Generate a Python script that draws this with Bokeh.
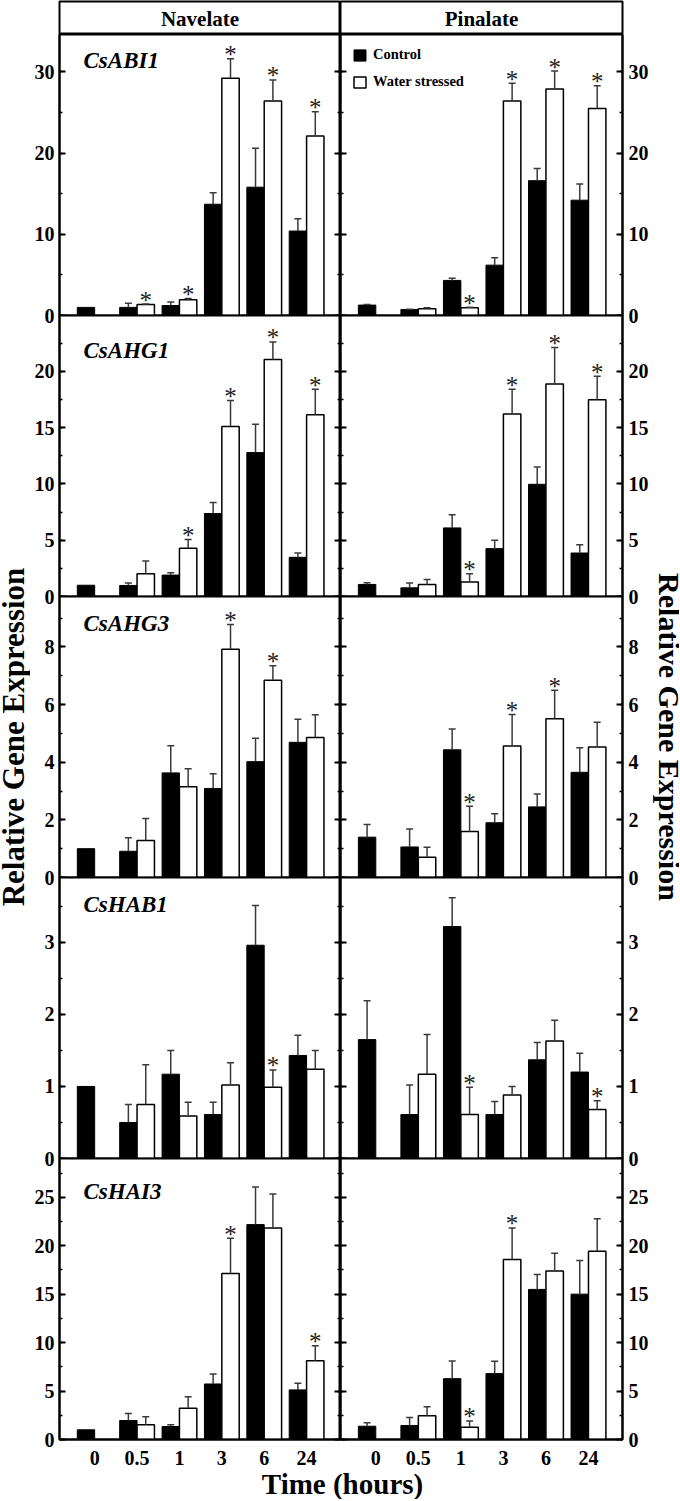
import numpy as np
from bokeh.plotting import figure
from bokeh.models import (ColumnDataSource, Range1d, LinearAxis, SingleIntervalTicker,
                          FixedTicker, Whisker, TeeHead, Legend, LegendItem)
from bokeh.layouts import row, column
from bokeh.core.properties import value
from bokeh.embed import file_html
from bokeh.resources import INLINE

# ---------------- data ----------------
times = ["0", "0.5", "1", "3", "6", "24"]
cultivars = ["Navelate", "Pinalate"]
genes = ["CsABI1", "CsAHG1", "CsAHG3", "CsHAB1", "CsHAI3"]
series_names = ["Control", "Water stressed"]

y_max = [34.6, 24.95, 9.75, 3.9, 29.0]
y_step = [10, 5, 2, 1, 5]

# Navelate
nav_ABI1_ctrl = [1.0, 1.0, 1.23, 13.7, 15.8, 10.4]
nav_ABI1_ctrl_se = [0.0, 0.5, 0.42, 1.4, 4.8, 1.5]
nav_ABI1_ws = [None, 1.36, 1.93, 29.2, 26.4, 22.1]
nav_ABI1_ws_se = [None, 0.05, 0.15, 2.4, 2.6, 3.0]
nav_ABI1_sig = [0, 1, 1, 1, 1, 1]

nav_AHG1_ctrl = [1.0, 0.98, 1.9, 7.37, 12.78, 3.48]
nav_AHG1_ctrl_se = [0.0, 0.21, 0.2, 0.98, 2.52, 0.38]
nav_AHG1_ws = [None, 2.02, 4.28, 15.1, 21.04, 16.14]
nav_AHG1_ws_se = [None, 1.13, 0.77, 2.3, 1.56, 2.26]
nav_AHG1_sig = [0, 0, 1, 1, 1, 1]

nav_AHG3_ctrl = [1.0, 0.91, 3.63, 3.09, 4.02, 4.69]
nav_AHG3_ctrl_se = [0.0, 0.47, 0.94, 0.51, 0.81, 0.8]
nav_AHG3_ws = [None, 1.28, 3.15, 7.92, 6.84, 4.86]
nav_AHG3_ws_se = [None, 0.77, 0.62, 0.86, 0.51, 0.79]
nav_AHG3_sig = [0, 0, 0, 1, 1, 0]

nav_HAB1_ctrl = [1.0, 0.5, 1.17, 0.61, 2.96, 1.43]
nav_HAB1_ctrl_se = [0.0, 0.25, 0.33, 0.17, 0.55, 0.28]
nav_HAB1_ws = [None, 0.75, 0.59, 1.02, 0.99, 1.24]
nav_HAB1_ws_se = [None, 0.55, 0.19, 0.31, 0.24, 0.26]
nav_HAB1_sig = [0, 0, 0, 0, 1, 0]

nav_HAI3_ctrl = [1.0, 1.96, 1.34, 5.73, 22.18, 5.12]
nav_HAI3_ctrl_se = [0.0, 0.72, 0.17, 1.04, 3.88, 0.68]
nav_HAI3_ws = [None, 1.51, 3.23, 17.14, 21.84, 8.14]
nav_HAI3_ws_se = [None, 0.83, 1.17, 3.64, 3.5, 1.54]
nav_HAI3_sig = [0, 0, 0, 1, 0, 1]

# Pinalate
pin_ABI1_ctrl = [1.28, 0.74, 4.32, 6.2, 16.6, 14.2]
pin_ABI1_ctrl_se = [0.08, 0.04, 0.28, 0.9, 1.5, 2.0]
pin_ABI1_ws = [None, 0.82, 0.95, 26.4, 27.9, 25.5]
pin_ABI1_ws_se = [None, 0.13, 0.08, 2.2, 2.2, 2.8]
pin_ABI1_sig = [0, 0, 1, 1, 1, 1]

pin_AHG1_ctrl = [1.07, 0.77, 6.09, 4.25, 9.96, 3.86]
pin_AHG1_ctrl_se = [0.15, 0.42, 1.16, 0.74, 1.54, 0.74]
pin_AHG1_ws = [None, 1.07, 1.28, 16.2, 18.87, 17.47]
pin_AHG1_ws_se = [None, 0.45, 0.74, 2.2, 3.23, 2.08]
pin_AHG1_sig = [0, 0, 1, 1, 1, 1]

pin_AHG3_ctrl = [1.4, 1.06, 4.43, 1.9, 2.45, 3.65]
pin_AHG3_ctrl_se = [0.44, 0.62, 0.72, 0.31, 0.45, 0.85]
pin_AHG3_ws = [None, 0.7, 1.6, 4.56, 5.51, 4.53]
pin_AHG3_ws_se = [None, 0.35, 0.87, 1.1, 0.99, 0.86]
pin_AHG3_sig = [0, 0, 1, 1, 1, 0]

pin_HAB1_ctrl = [1.65, 0.61, 3.22, 0.61, 1.37, 1.2]
pin_HAB1_ctrl_se = [0.54, 0.41, 0.4, 0.18, 0.24, 0.26]
pin_HAB1_ws = [None, 1.17, 0.61, 0.88, 1.63, 0.68]
pin_HAB1_ws_se = [None, 0.55, 0.38, 0.12, 0.29, 0.12]
pin_HAB1_sig = [0, 0, 1, 0, 0, 1]

pin_HAI3_ctrl = [1.37, 1.44, 6.28, 6.8, 15.49, 15.0]
pin_HAI3_ctrl_se = [0.35, 0.83, 1.82, 1.27, 1.54, 3.48]
pin_HAI3_ws = [None, 2.44, 1.27, 18.58, 17.38, 19.44]
pin_HAI3_ws_se = [None, 0.93, 0.65, 3.26, 1.85, 3.33]
pin_HAI3_sig = [0, 0, 1, 1, 0, 0]

DATA = {
    ("Navelate", "CsABI1"): (nav_ABI1_ctrl, nav_ABI1_ctrl_se, nav_ABI1_ws, nav_ABI1_ws_se, nav_ABI1_sig),
    ("Navelate", "CsAHG1"): (nav_AHG1_ctrl, nav_AHG1_ctrl_se, nav_AHG1_ws, nav_AHG1_ws_se, nav_AHG1_sig),
    ("Navelate", "CsAHG3"): (nav_AHG3_ctrl, nav_AHG3_ctrl_se, nav_AHG3_ws, nav_AHG3_ws_se, nav_AHG3_sig),
    ("Navelate", "CsHAB1"): (nav_HAB1_ctrl, nav_HAB1_ctrl_se, nav_HAB1_ws, nav_HAB1_ws_se, nav_HAB1_sig),
    ("Navelate", "CsHAI3"): (nav_HAI3_ctrl, nav_HAI3_ctrl_se, nav_HAI3_ws, nav_HAI3_ws_se, nav_HAI3_sig),
    ("Pinalate", "CsABI1"): (pin_ABI1_ctrl, pin_ABI1_ctrl_se, pin_ABI1_ws, pin_ABI1_ws_se, pin_ABI1_sig),
    ("Pinalate", "CsAHG1"): (pin_AHG1_ctrl, pin_AHG1_ctrl_se, pin_AHG1_ws, pin_AHG1_ws_se, pin_AHG1_sig),
    ("Pinalate", "CsAHG3"): (pin_AHG3_ctrl, pin_AHG3_ctrl_se, pin_AHG3_ws, pin_AHG3_ws_se, pin_AHG3_sig),
    ("Pinalate", "CsHAB1"): (pin_HAB1_ctrl, pin_HAB1_ctrl_se, pin_HAB1_ws, pin_HAB1_ws_se, pin_HAB1_sig),
    ("Pinalate", "CsHAI3"): (pin_HAI3_ctrl, pin_HAI3_ctrl_se, pin_HAI3_ws, pin_HAI3_ws_se, pin_HAI3_sig),
}

# ---------------- style ----------------
FONT = "Liberation Serif"
BAR_W = 0.41
X_LO, X_HI = -0.83, 5.8
FRAME_W = [281, 282]
FRAME_H = 281
BORDER_OUT = [29, 30]
LABEL_STANDOFF = [5, 6]
PAD = 10
BOTTOM_AXIS = 28
HEADER_H = 33
SIDE_W = [30, 27]
SIDE_FONT = ["31px", "30px"]
TIME_H = 32
ERR_C = "#3a3a3a"
gene_label_dx = 24
gene_label_dy = [25.5, 35, 26.5, 27, 33]


def style_y(ax, gi, labels, standoff=0):
    ax.ticker = SingleIntervalTicker(interval=y_step[gi], num_minor_ticks=2)
    ax.axis_line_color = "black"
    ax.axis_line_width = 2
    ax.major_tick_in = 6
    ax.major_tick_out = 0
    ax.major_tick_line_width = 2
    ax.minor_tick_in = 3
    ax.minor_tick_out = 0
    ax.minor_tick_line_width = 1.5
    if labels:
        ax.major_label_text_font = FONT
        ax.major_label_text_font_style = "bold"
        ax.major_label_text_font_size = "20px"
        ax.major_label_text_color = "black"
        ax.major_label_standoff = standoff
    else:
        ax.major_label_text_font_size = "0px"
        ax.major_label_standoff = 0


def make_panel(ci, gi):
    left = ci == 0
    last = gi == len(genes) - 1
    p = figure(frame_width=FRAME_W[ci], frame_height=FRAME_H,
               x_range=Range1d(X_LO, X_HI), y_range=Range1d(0, y_max[gi]),
               x_axis_location="below" if last else None,
               y_axis_location="left" if left else "right",
               output_backend="svg", toolbar_location=None,
               min_border_left=BORDER_OUT[0] if left else 0,
               min_border_right=0 if left else BORDER_OUT[1],
               min_border_top=PAD,
               min_border_bottom=BOTTOM_AXIS if last else PAD,
               background_fill_color="white", border_fill_color=None,
               outline_line_color="black", outline_line_width=2)
    p.margin = (-PAD if gi == 0 else -2 * PAD, 0, 0, 0)
    p.grid.visible = False

    style_y(p.yaxis[0], gi, True, LABEL_STANDOFF[ci])
    inner = LinearAxis()
    style_y(inner, gi, False)
    p.add_layout(inner, "right" if left else "left")

    if last:
        xa = p.xaxis[0]
        xa.ticker = FixedTicker(ticks=list(range(len(times))))
        xa.major_label_overrides = {i: t for i, t in enumerate(times)}
        xa.major_tick_line_color = None
        xa.minor_tick_line_color = None
        xa.axis_line_width = 2
        xa.major_label_text_font = FONT
        xa.major_label_text_font_style = "bold"
        xa.major_label_text_font_size = "20px"
        xa.major_label_text_color = "black"
        xa.major_label_standoff = 5

    ctrl, cse, ws, wse, sig = DATA[(cultivars[ci], genes[gi])]
    idx = np.arange(len(times))
    xc = idx - BAR_W / 2
    xw = idx + BAR_W / 2

    c_src = ColumnDataSource(dict(x=xc, top=ctrl))
    keep = [i for i, v in enumerate(ws) if v is not None]
    w_src = ColumnDataSource(dict(x=xw[keep], top=[ws[i] for i in keep]))

    rc = p.vbar(x="x", top="top", bottom=0, width=BAR_W, source=c_src,
                fill_color="black", line_color="black", line_width=1)
    rw = p.vbar(x="x", top="top", bottom=0, width=BAR_W, source=w_src,
                fill_color="white", line_color="black", line_width=1.5)

    ce = [i for i in range(len(times)) if cse[i]]
    ce_src = ColumnDataSource(dict(x=xc[ce], lo=[ctrl[i] for i in ce],
                                   hi=[ctrl[i] + cse[i] for i in ce]))
    we = [i for i in keep if wse[i]]
    we_src = ColumnDataSource(dict(x=xw[we], lo=[ws[i] for i in we],
                                   hi=[ws[i] + wse[i] for i in we]))
    for src in (ce_src, we_src):
        p.add_layout(Whisker(source=src, base="x", lower="lo", upper="hi",
                             dimension="height", line_color=ERR_C, line_width=1.5,
                             lower_head=None,
                             upper_head=TeeHead(size=7, line_color=ERR_C, line_width=1.5),
                             level="overlay"))

    si = [i for i in keep if sig[i]]
    s_src = ColumnDataSource(dict(x=xw[si], y=[ws[i] + wse[i] for i in si],
                                  t=["*"] * len(si)))
    p.text(x="x", y="y", text="t", source=s_src, text_align="center",
           text_baseline="middle", y_offset=-4, text_font=value(FONT),
           text_font_size="25px", text_color="#222222")

    if left:
        p.text(x=[X_LO], y=[y_max[gi]], text=[genes[gi]], x_offset=gene_label_dx,
               y_offset=gene_label_dy[gi], text_align="left", text_baseline="middle",
               text_font=value(FONT), text_font_style="bold italic",
               text_font_size="23px", text_color="black")

    if ci == 1 and gi == 0:
        lg = Legend(items=[LegendItem(label=series_names[0], renderers=[rc]),
                           LegendItem(label=series_names[1], renderers=[rw])],
                    location="top_left", margin=12, padding=0, spacing=10,
                    glyph_width=15, glyph_height=14, label_standoff=6,
                    label_height=14,
                    label_text_font=FONT, label_text_font_style="bold",
                    label_text_font_size="14.5px", label_text_color="black",
                    border_line_color=None, background_fill_alpha=0)
        p.add_layout(lg)
    return p


def make_header(ci):
    h = figure(frame_width=FRAME_W[ci], frame_height=HEADER_H,
               x_range=Range1d(0, 1), y_range=Range1d(0, 1),
               x_axis_location=None, y_axis_location=None,
               output_backend="svg", toolbar_location=None,
               min_border_left=BORDER_OUT[0] if ci == 0 else 0,
               min_border_right=0 if ci == 0 else BORDER_OUT[1],
               min_border_top=1, min_border_bottom=0,
               background_fill_color="white", border_fill_color=None,
               outline_line_color="black", outline_line_width=2)
    h.grid.visible = False
    h.text(x=[0.5], y=[0.5], text=[cultivars[ci]], text_align="center",
           text_baseline="middle", y_offset=1, text_font=value(FONT),
           text_font_style="bold", text_font_size="21px", text_color="black")
    return h


columns = []
for ci in range(2):
    items = [make_header(ci)] + [make_panel(ci, gi) for gi in range(len(genes))]
    columns.append(column(*items, spacing=0))

COL_H = (HEADER_H + 1) + FRAME_H * len(genes) + BOTTOM_AXIS


def make_side(w, text, angle, xpos, size):
    s = figure(frame_width=w, frame_height=COL_H,
               x_range=Range1d(0, w), y_range=Range1d(0, COL_H),
               x_axis_location=None, y_axis_location=None,
               output_backend="svg", toolbar_location=None, min_border=0,
               background_fill_color=None, border_fill_color=None,
               outline_line_color=None)
    s.grid.visible = False
    s.text(x=[xpos], y=[BOTTOM_AXIS + FRAME_H * len(genes) / 2], text=[text],
           angle=angle, text_align="center", text_baseline="middle",
           text_font=value(FONT), text_font_style="bold", text_font_size=size,
           text_color="black")
    return s


side_l = make_side(SIDE_W[0], "Relative Gene Expression", np.pi / 2, 13, SIDE_FONT[0])
side_r = make_side(SIDE_W[1], "Relative Gene Expression", -np.pi / 2, 16.5, SIDE_FONT[1])

TOTAL_W = SIDE_W[0] + (BORDER_OUT[0] + FRAME_W[0]) + (FRAME_W[1] + BORDER_OUT[1]) + SIDE_W[1]
t = figure(frame_width=TOTAL_W, frame_height=TIME_H,
           x_range=Range1d(0, TOTAL_W), y_range=Range1d(0, TIME_H),
           x_axis_location=None, y_axis_location=None,
           output_backend="svg", toolbar_location=None, min_border=0,
           background_fill_color=None, border_fill_color=None, outline_line_color=None)
t.grid.visible = False
t.text(x=[342], y=[16], text=["Time (hours)"], text_align="center",
       text_baseline="middle", text_font=value(FONT), text_font_style="bold",
       text_font_size="29px", text_color="black")

layout = column(row(side_l, columns[0], columns[1], side_r, spacing=0), t, spacing=0)

open("out.html", "w").write(file_html(layout, INLINE))
